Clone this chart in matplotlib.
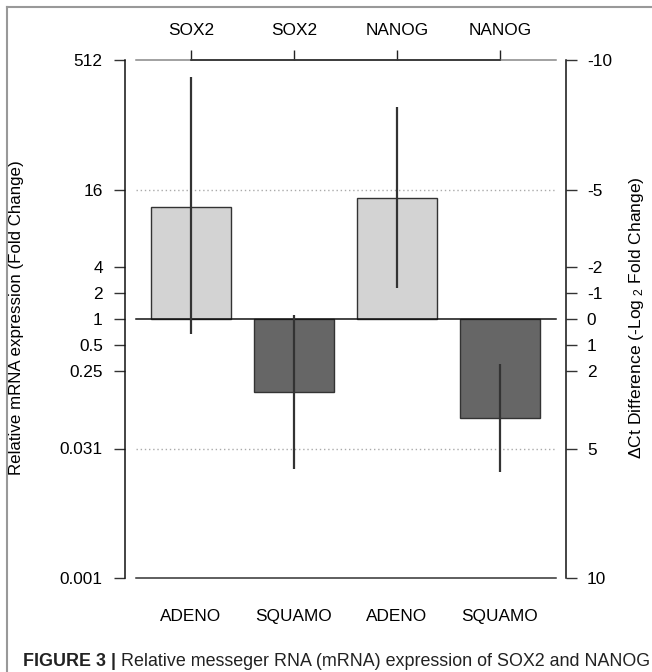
import matplotlib
matplotlib.use("Agg")
import matplotlib.pyplot as plt
import numpy as np

plt.rcParams['font.family'] = ['Liberation Sans', 'DejaVu Sans']
plt.rcParams['mathtext.default'] = 'regular'

# ---- data ----
genes = ["SOX2", "SOX2", "NANOG", "NANOG"]
groups = ["ADENO", "SQUAMO", "ADENO", "SQUAMO"]
delta_ct = [-4.34, 2.82, -4.68, 3.84]          # bar heights (ΔCt, -log2 fold change)
err_low = [-9.33, -0.16, -8.17, 1.72]          # error bar upper end (ΔCt)
err_high = [0.58, 5.79, -1.19, 5.92]           # error bar lower end (ΔCt)
bar_colors = ["#d3d3d3", "#666666", "#d3d3d3", "#666666"]
ct_ticks = [-10, -5, -2, -1, 0, 1, 2, 5, 10]
fold_labels = ["512", "16", "4", "2", "1", "0.5", "0.25", "0.031", "0.001"]
ct_labels = ["-10", "-5", "-2", "-1", "0", "1", "2", "5", "10"]
ref_lines = [-5, 5]

W, H = 652, 672
FS = 12.4
fig = plt.figure(figsize=(W / 100, H / 100), dpi=100)

ax = fig.add_axes([125 / W, 1 - 578 / H, 441 / W, 518 / H])
x = np.arange(1, len(genes) + 1)
ax.set_xlim(0.359, 4.641)
ax.set_ylim(10, -10)

line_x0, line_x1 = 0.466, 4.544
# dotted reference lines
for r in ref_lines:
    ax.plot([line_x0, line_x1], [r, r], color="#aaaaaa", lw=1.0, ls=(0, (1, 2)), zorder=1)

# bars
ax.bar(x, delta_ct, width=0.777, color=bar_colors, edgecolor="#333333", linewidth=1.0, zorder=2)
# zero line
ax.plot([line_x0, line_x1], [0, 0], color="#111111", lw=1.1, zorder=3)
# error bars
ax.vlines(x, err_low, err_high, color="#333333", lw=1.6, zorder=4)

# top & bottom frame lines
ax.plot([line_x0, line_x1], [-10, -10], color="#888888", lw=1.1, zorder=3, clip_on=False)
ax.plot([x[0], x[-1]], [-10, -10], color="#222222", lw=1.1, zorder=4, clip_on=False)
ax.plot([line_x0, line_x1], [10, 10], color="#333333", lw=1.1, zorder=3, clip_on=False)

for s in ["top", "bottom"]:
    ax.spines[s].set_visible(False)
ax.spines["left"].set_color("#111111")
ax.spines["left"].set_linewidth(1.1)
ax.spines["right"].set_visible(False)

ax.set_yticks(ct_ticks)
ax.set_yticklabels(fold_labels, fontsize=FS)
ax.tick_params(axis="y", length=8, width=1.0, pad=8, color="#333333")

# bottom labels
ax.set_xticks(x)
ax.set_xticklabels(groups, fontsize=FS)
ax.tick_params(axis="x", length=0, pad=22)

# top axis
axt = ax.secondary_xaxis("top")
axt.set_xticks(x)
axt.set_xticklabels(genes, fontsize=FS)
axt.tick_params(length=7.5, width=1.0, pad=8, color="#222222")
axt.spines["top"].set_visible(False)

# right axis
axr = ax.twinx()
axr.set_ylim(10, -10)
axr.set_yticks(ct_ticks)
axr.set_yticklabels(ct_labels, fontsize=FS)
axr.tick_params(axis="y", length=8, width=1.0, pad=7, color="#333333")
for s in ["top", "bottom", "left"]:
    axr.spines[s].set_visible(False)
axr.spines["right"].set_color("#111111")
axr.spines["right"].set_linewidth(1.1)

# axis labels
fig.text(17 / W, 1 - 318 / H, "Relative mRNA expression (Fold Change)", rotation=90,
         ha="center", va="center", fontsize=12.2)
fig.text(636 / W, 1 - 318 / H, "$\\Delta$Ct Difference (-Log$_{\\ 2}$ Fold Change)", rotation=90,
         ha="center", va="center", fontsize=12.6)

# figure frame
fig.add_artist(plt.Line2D([7 / W, 7 / W], [0, 1 - 7 / H], color="#999999", lw=1.5))
fig.add_artist(plt.Line2D([7 / W, 1], [1 - 7 / H, 1 - 7 / H], color="#999999", lw=1.5))

# caption, fitted to span x = 23 .. 648 px
renderer = fig.canvas.get_renderer()
cap_y = 1 - 662 / H
t1 = fig.text(23 / W, cap_y, "FIGURE 3 | ", fontsize=13, fontweight="bold",
              va="center", ha="left", color="#222222")
t2 = fig.text(0, cap_y, "Relative messeger RNA (mRNA) expression of SOX2 and NANOG",
              fontsize=13, va="center", ha="left", color="#222222")
w1 = t1.get_window_extent(renderer).width
w2 = t2.get_window_extent(renderer).width
scale = (648 - 23) / (w1 + w2)
t1.set_fontsize(13 * scale)
t2.set_fontsize(13 * scale)
bb = t1.get_window_extent(renderer)
t2.set_x(bb.x1 / W)

fig.savefig("out.png", dpi=100)
